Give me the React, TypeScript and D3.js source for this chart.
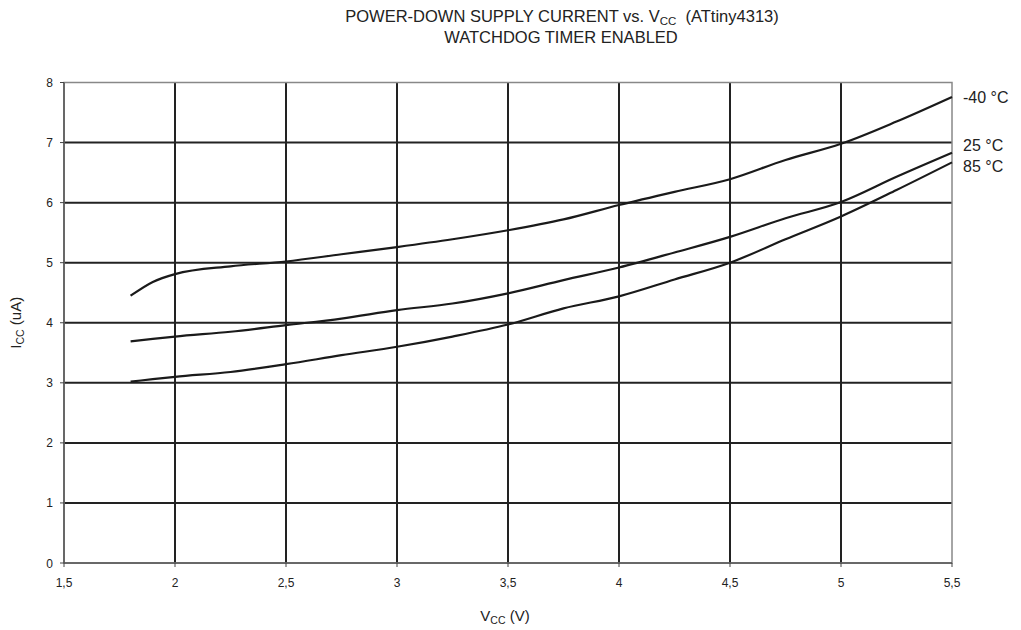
import React from "react";
import * as d3 from "d3";

const vcc = [1.8, 1.9, 2.0, 2.25, 2.5, 2.75, 3.0, 3.25, 3.5, 3.75, 4.0, 4.25, 4.5, 4.75, 5.0, 5.25, 5.5];
const iccM40 = [4.45, 4.68, 4.81, 4.94, 5.02, 5.14, 5.26, 5.39, 5.54, 5.72, 5.96, 6.18, 6.39, 6.71, 6.98, 7.35, 7.76];
const icc25 = [3.69, 3.73, 3.77, 3.85, 3.96, 4.07, 4.21, 4.32, 4.49, 4.71, 4.92, 5.17, 5.43, 5.74, 6.01, 6.43, 6.83];
const icc85 = [3.02, 3.06, 3.1, 3.18, 3.31, 3.46, 3.6, 3.77, 3.97, 4.24, 4.44, 4.72, 5.0, 5.39, 5.77, 6.21, 6.67];
const seriesNames = ["-40 °C", "25 °C", "85 °C"];
const xTicks = [1.5, 2, 2.5, 3, 3.5, 4, 4.5, 5, 5.5];
const yTicks = [0, 1, 2, 3, 4, 5, 6, 7, 8];

const W = 1021, H = 630;
const L = 64, R = 952, T = 82.5, B = 563;
const font = "'Liberation Sans', Arial, sans-serif";

export default function App() {
  const x = d3.scaleLinear().domain([1.5, 5.5]).range([L, R]);
  const y = d3.scaleLinear().domain([0, 8]).range([B, T]);
  const line = d3.line<number>().x((_, i) => x(vcc[i])).y((d) => y(d)).curve(d3.curveMonotoneX);
  const series = [iccM40, icc25, icc85];
  const labelBase = [102.5, 150.5, 171.5];
  const fmt = (v: number) => String(v).replace(".", ",");
  return (
    <svg width={W} height={H} style={{ position: "absolute", left: 0, top: 0, background: "#fff" }} fontFamily={font}>
      <rect x={0} y={0} width={W} height={H} fill="#fff" />
      <text x={562} y={22} textAnchor="middle" fontSize={16.5} fill="#222">
        POWER-DOWN SUPPLY CURRENT vs. V<tspan fontSize={11.5} dy={3}>CC</tspan><tspan dy={-3} style={{ whiteSpace: "pre" }}>{"  (ATtiny4313)"}</tspan>
      </text>
      <text x={561} y={43} textAnchor="middle" fontSize={16.5} fill="#222">WATCHDOG TIMER ENABLED</text>
      {yTicks.filter((v) => v > 0 && v < 8).map((v) => (
        <line key={"gy" + v} x1={L} x2={R} y1={y(v)} y2={y(v)} stroke="#222" strokeWidth={2} />
      ))}
      {xTicks.filter((v) => v > 1.5 && v < 5.5).map((v) => (
        <line key={"gx" + v} x1={x(v)} x2={x(v)} y1={T} y2={B} stroke="#222" strokeWidth={2} />
      ))}
      <rect x={L} y={T} width={R - L} height={B - T} fill="none" stroke="#888" strokeWidth={1.5} />
      <line x1={L} x2={L} y1={T} y2={B} stroke="#555" strokeWidth={1.5} />
      <line x1={L} x2={R} y1={B} y2={B} stroke="#555" strokeWidth={1.5} />
      {yTicks.map((v) => (
        <g key={"ty" + v}>
          <line x1={L - 4} x2={L} y1={y(v)} y2={y(v)} stroke="#444" strokeWidth={1} />
          <text x={53} y={y(v) + 4.5} textAnchor="end" fontSize={12} fill="#222">{fmt(v)}</text>
        </g>
      ))}
      {xTicks.map((v) => (
        <g key={"tx" + v}>
          <line x1={x(v)} x2={x(v)} y1={B} y2={B + 4} stroke="#444" strokeWidth={1} />
          <text x={x(v)} y={587} textAnchor="middle" fontSize={12} fill="#222">{fmt(v)}</text>
        </g>
      ))}
      {series.map((s, i) => (
        <path key={"s" + i} d={line(s) || ""} fill="none" stroke="#1a1a1a" strokeWidth={2.2} />
      ))}
      {seriesNames.map((n, i) => (
        <text key={"l" + i} x={963} y={labelBase[i]} fontSize={16} fill="#222">{n}</text>
      ))}
      <text x={505} y={621} textAnchor="middle" fontSize={15} fill="#222">
        V<tspan fontSize={10.5} dy={3}>CC</tspan><tspan dy={-3}> (V)</tspan>
      </text>
      <text transform={`translate(21,${(T + B) / 2}) rotate(-90)`} textAnchor="middle" fontSize={15} fill="#222">
        I<tspan fontSize={10.5} dy={3}>CC</tspan><tspan dy={-3}> (uA)</tspan>
      </text>
    </svg>
  );
}
